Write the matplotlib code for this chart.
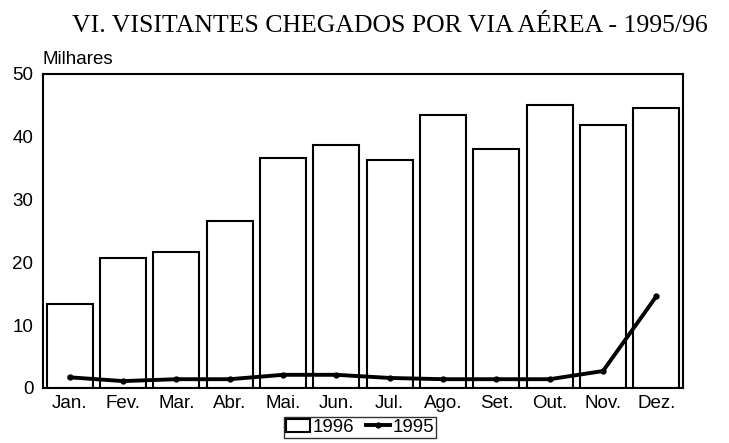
import matplotlib
matplotlib.use("Agg")
import matplotlib.pyplot as plt
import numpy as np

months = ["Jan.", "Fev.", "Mar.", "Abr.", "Mai.", "Jun.", "Jul.", "Ago.", "Set.", "Out.", "Nov.", "Dez."]
v1996 = [13.4, 20.7, 21.7, 26.6, 36.6, 38.7, 36.3, 43.4, 38.0, 45.1, 41.8, 44.6]
v1995 = [1.7, 1.1, 1.4, 1.4, 2.1, 2.1, 1.6, 1.4, 1.4, 1.4, 2.7, 14.6]
yticks = [0, 10, 20, 30, 40, 50]

SANS = "Liberation Sans"
FS = 13.5

fig = plt.figure(figsize=(7.29, 4.43), dpi=100)
ax = fig.add_axes([43/729, 1 - 388/443, 640/729, (388-74)/443])
x = np.arange(len(months))
bars = ax.bar(x, v1996, width=0.86, facecolor="white", edgecolor="black", linewidth=1.5, label="1996")
line, = ax.plot(x, v1995, color="black", linewidth=2.8, marker="o", markersize=3.5, label="1995")
ax.set_xlim(-0.5, 11.5)
ax.set_ylim(0, 50)
ax.set_yticks(yticks)
ax.set_xticks(x)
ax.set_xticklabels(months)
for s in ax.spines.values():
    s.set_linewidth(1.5)
    s.set_color("black")
ax.tick_params(length=0, labelsize=FS)
ax.tick_params(axis="x", pad=5)
ax.tick_params(axis="y", pad=7)
for t in ax.get_xticklabels() + ax.get_yticklabels():
    t.set_fontfamily(SANS)
fig.text(43/729, 1 - 59/443, "Milhares", fontsize=FS, family=SANS, ha="left", va="center")
fig.text(390/729, 1 - 26/443, "VI. VISITANTES CHEGADOS POR VIA AÉREA - 1995/96",
         family="Liberation Serif", fontsize=18.5, ha="center", va="center")
leg = fig.legend([bars, line], ["1996", "1995"], loc="upper center", bbox_to_anchor=(360/729, 1 - 417/443),
                 ncol=2, frameon=True, fancybox=False,
                 edgecolor="black", handlelength=1.3, handletextpad=0.15, columnspacing=0.6,
                 borderpad=0.1, borderaxespad=0, prop={"family": SANS, "size": FS})
leg.get_frame().set_linewidth(1.0)
fig.savefig("out.png", dpi=100)
